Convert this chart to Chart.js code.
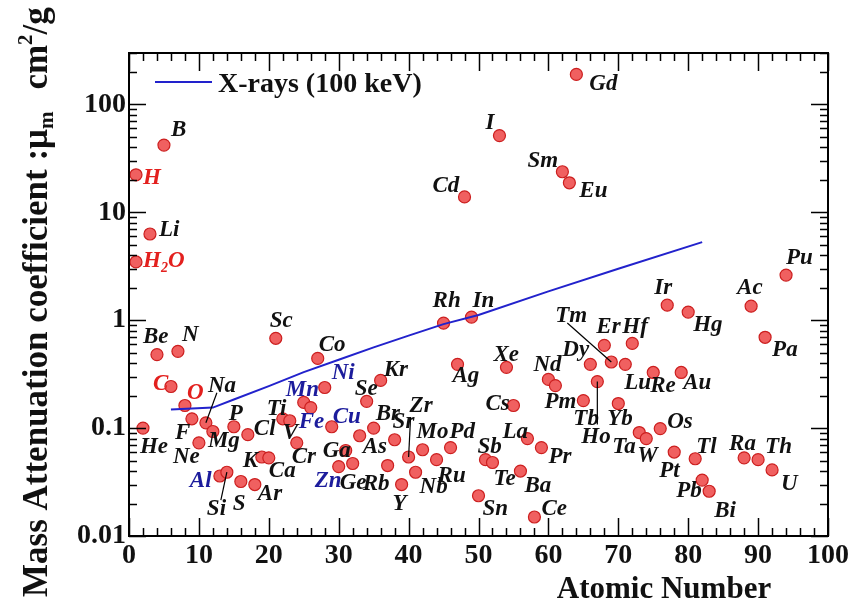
<!DOCTYPE html>
<html>
<head>
<meta charset="utf-8">
<script src="https://cdn.jsdelivr.net/npm/chart.js@4.4.1/dist/chart.umd.min.js"></script>
<style>
  html, body { margin: 0; padding: 0; background: #fff; }
</style>
</head>
<body>
<canvas id="chart" width="852" height="603"></canvas>
<script>
const SERIF = '"Liberation Serif", "Times New Roman", serif';

// neutron data
const elements = ['H','He','Li','Be','B','C','N','O','F','Ne','Na','Mg','Al','Si','P','S','Cl','Ar','K','Ca',
    'Sc','Ti','V','Cr','Mn','Fe','Co','Ni','Cu','Zn','Ga','Ge','As','Se','Br','Kr','Rb','Sr','Y','Zr',
    'Nb','Mo','Ru','Rh','Pd','Ag','Cd','In','Sn','Sb','Te','I','Xe','Cs','Ba','La','Ce','Pr','Nd','Pm',
    'Sm','Eu','Gd','Tb','Dy','Ho','Er','Tm','Yb','Lu','Hf','Ta','W','Re','Os','Ir','Pt','Au','Hg','Tl',
    'Pb','Bi','Ra','Ac','Th','Pa','U','Pu','H2O'];
const atomicNumbers = [1,2,3,4,5,6,7,8,9,10,11,12,13,14,15,16,17,18,19,20,
    21,22,23,24,25,26,27,28,29,30,31,32,33,34,35,36,37,38,39,40,
    41,42,44,45,46,47,48,49,50,51,52,53,54,55,56,57,58,59,60,61,
    62,63,64,65,66,67,68,69,70,71,72,73,74,75,76,77,78,79,80,81,
    82,83,88,89,90,91,92,94,1];
const coefficients = [22.3,0.1,6.3,0.48,42,0.243,0.515,0.162,0.122,0.073,0.112,0.093,0.036,0.039,0.103,0.032,0.087,0.030,0.054,0.053,
    0.68,0.122,0.117,0.073,0.173,0.155,0.443,0.238,0.103,0.044,0.062,0.047,0.085,0.177,0.10,0.277,0.045,0.078,0.030,0.054,
    0.039,0.063,0.051,0.94,0.066,0.39,13.9,1.07,0.0236,0.051,0.048,51.5,0.366,0.162,0.040,0.080,0.015,0.066,0.283,0.248,
    23.8,18.8,190,0.18,0.39,0.27,0.585,0.41,0.169,0.39,0.61,0.091,0.080,0.328,0.099,1.38,0.060,0.328,1.19,0.052,
    0.033,0.026,0.053,1.35,0.051,0.695,0.041,2.62,3.47];

// X-ray curve
const xrayZ = [6, 12, 15, 20, 25, 30, 35, 40, 45, 50, 60, 70, 82];
const xrayCoeff = [0.149, 0.155, 0.184, 0.245, 0.33, 0.43, 0.56, 0.72, 0.92, 1.12, 1.85, 3.0, 5.3];

const xTickValues = [0, 10, 20, 30, 40, 50, 60, 70, 80, 90, 100];
const yTickValues = [0.01, 0.1, 1, 10, 100];
const yTickLabels = ['0.01', '0.1', '1', '10', '100'];

// label placement: [dx, dy] of text left/baseline from the point centre
const labelOffsets = {
    H:[7,9], He:[-3,25], Li:[9,2], Be:[-14,-12], B:[7,-9], C:[-18,3], N:[4,-10], O:[2,-7], F:[-17,20], Ne:[-26,20],
    Na:[2,-31], Mg:[-5,15], Al:[-30,11], Si:[-20,43], P:[-5,-7], S:[-8,28], Cl:[6,0], Ar:[3,15], K:[-19,10], Ca:[0,19],
    Sc:[-6,-11], Ti:[-16,-4], V:[-7,18], Cr:[-5,20], Mn:[-18,-6], Fe:[-12,20], Co:[1,-7], Ni:[7,-8], Cu:[1,-4], Zn:[-24,20],
    Ga:[-23,6], Ge:[-13,26], As:[3,17], Se:[-12,-6], Br:[2,-8], Kr:[3,-4], Rb:[-25,24], Sr:[-2,-12], Y:[-9,25], Zr:[1,-45],
    Nb:[4,21], Mo:[-6,-12], Ru:[1,22], Rh:[-11,-16], Pd:[-1,-10], Ag:[-5,18], Cd:[-32,-5], In:[1,-10], Sn:[4,19], Sb:[-8,-7],
    Te:[1,22], I:[-14,-7], Xe:[-13,-6], Cs:[-28,4], Ba:[4,21], La:[-25,-1], Ce:[7,-2], Pr:[7,15], Nd:[-15,-8], Pm:[-11,22],
    Sm:[-35,-5], Eu:[10,14], Gd:[13,16], Tb:[-10,24], Dy:[-28,-8], Ho:[-16,61], Er:[-8,-12], Tm:[-56,-40], Yb:[-11,21], Lu:[-1,25],
    Hf:[-10,-10], Ta:[-27,20], W:[-9,23], Re:[-3,20], Os:[7,-1], Ir:[-13,-11], Pt:[-15,25], Au:[2,17], Hg:[5,19], Tl:[1,-6],
    Pb:[-26,17], Bi:[5,26], Ra:[-15,-8], Ac:[-14,-12], Th:[7,-7], Pa:[7,19], U:[9,20], Pu:[0,-11], H2O:[7,5]
};
const leaderEnds = { Na:[11,-30], Si:[-6,28], Zr:[2,-40], Tm:[-44,-39], Ho:[0,43] };
const redLabels = ['H', 'H2O', 'C', 'O'];
const blueLabels = ['Al', 'Mn', 'Fe', 'Ni', 'Cu', 'Zn'];

function drawRich(ctx, text, x, y, size) {
    // only H2O needs a subscript
    const m = text.match(/^([A-Za-z]+)(\d)([A-Za-z]*)$/);
    if (!m) { ctx.fillText(text, x, y); return; }
    ctx.fillText(m[1], x, y);
    x += ctx.measureText(m[1]).width;
    const font = ctx.font;
    ctx.font = 'italic bold ' + Math.round(size * 0.6) + 'px ' + SERIF;
    ctx.fillText(m[2], x, y + size * 0.2);
    x += ctx.measureText(m[2]).width;
    ctx.font = font;
    ctx.fillText(m[3], x, y);
}

const frameTicks = {
    id: 'frameTicks',
    afterDatasetsDraw(chart) {
        const { ctx, chartArea: a, scales: { x, y } } = chart;
        ctx.save();
        ctx.strokeStyle = '#000';
        ctx.lineWidth = 1.5;
        ctx.beginPath();
        for (let v = 0; v <= 100; v += 2) {
            const px = Math.round(x.getPixelForValue(v)) + 0.5;
            const len = v % 10 === 0 ? 18 : 8;
            ctx.moveTo(px, a.bottom); ctx.lineTo(px, a.bottom - len);
            ctx.moveTo(px, a.top); ctx.lineTo(px, a.top + len);
        }
        for (let d = 0.01; d < 1000; d *= 10) {
            for (let k = 1; k <= 9; k++) {
                const v = k * d;
                if (v > y.max * 1.0001) break;
                const py = Math.round(y.getPixelForValue(v)) + 0.5;
                const len = k === 1 ? 17 : 8;
                ctx.moveTo(a.left, py); ctx.lineTo(a.left + len, py);
                ctx.moveTo(a.right, py); ctx.lineTo(a.right - len, py);
            }
        }
        ctx.stroke();
        ctx.lineWidth = 2;
        ctx.strokeRect(a.left, a.top, a.right - a.left, a.bottom - a.top);
        ctx.restore();
    }
};

const pointLabels = {
    id: 'pointLabels',
    afterDatasetsDraw(chart) {
        const { ctx } = chart;
        const meta = chart.getDatasetMeta(1);
        const size = 23;
        ctx.save();
        ctx.textAlign = 'left';
        ctx.textBaseline = 'alphabetic';
        elements.forEach((sym, i) => {
            const pt = meta.data[i];
            if (!pt) return;
            const lead = leaderEnds[sym];
            if (lead) {
                ctx.strokeStyle = '#000';
                ctx.lineWidth = 1.2;
                ctx.beginPath();
                ctx.moveTo(pt.x, pt.y);
                ctx.lineTo(pt.x + lead[0], pt.y + lead[1]);
                ctx.stroke();
            }
            const off = labelOffsets[sym] || [6, -6];
            ctx.fillStyle = redLabels.includes(sym) ? '#e3201e' : blueLabels.includes(sym) ? '#1c1c9c' : '#111';
            ctx.font = 'italic bold ' + size + 'px ' + SERIF;
            drawRich(ctx, sym, pt.x + off[0], pt.y + off[1], size);
        });
        ctx.restore();
    }
};

const titlesAndLegend = {
    id: 'titlesAndLegend',
    afterDraw(chart) {
        const { ctx } = chart;
        const line = chart.data.datasets[0];
        ctx.save();
        // legend
        ctx.strokeStyle = line.borderColor;
        ctx.lineWidth = 2;
        ctx.beginPath();
        ctx.moveTo(155, 82); ctx.lineTo(212, 82);
        ctx.stroke();
        ctx.fillStyle = '#111';
        ctx.font = 'bold 28px ' + SERIF;
        ctx.textBaseline = 'alphabetic';
        ctx.textAlign = 'left';
        ctx.fillText(line.label, 218, 92);

        // x title
        ctx.font = 'bold 31px ' + SERIF;
        ctx.textAlign = 'center';
        ctx.fillText('Atomic Number', 664, 598);

        // y title, rotated, with mu_m and cm^2/g
        ctx.translate(47, 597);
        ctx.rotate(-Math.PI / 2);
        ctx.textAlign = 'left';
        const big = 35, small = 21;
        let cx = 0;
        const put = (txt, size, dy) => {
            ctx.font = 'bold ' + size + 'px ' + SERIF;
            ctx.fillText(txt, cx, dy);
            cx += ctx.measureText(txt).width;
        };
        put('Mass Attenuation coefficient :', big, 0);
        put('\u03bc', big, 0);
        put('m', small, 6);
        cx += 22;
        put('cm', big, 0);
        put('2', small, -15);
        put('/g', big, 0);
        ctx.restore();
    }
};

new Chart(document.getElementById('chart'), {
    type: 'scatter',
    data: {
        datasets: [{
            type: 'line',
            label: 'X-rays (100 keV)',
            data: xrayZ.map((z, i) => ({ x: z, y: xrayCoeff[i] })),
            borderColor: '#2222cc',
            borderWidth: 2,
            pointRadius: 0,
            fill: false,
            tension: 0
        }, {
            label: 'neutrons',
            data: atomicNumbers.map((z, i) => ({ x: z, y: coefficients[i] })),
            pointRadius: 6,
            pointBackgroundColor: 'rgba(240, 96, 96, 1)',
            pointBorderColor: '#cc1f1f',
            pointBorderWidth: 1.2
        }]
    },
    options: {
        responsive: false,
        devicePixelRatio: 1,
        animation: false,
        layout: { padding: { left: 0, right: 23, top: 53, bottom: 0 } },
        plugins: {
            legend: { display: false },
            tooltip: { enabled: false }
        },
        scales: {
            x: {
                type: 'linear',
                min: 0,
                max: 100,
                afterFit: s => { s.height = 67; },
                afterBuildTicks: s => { s.ticks = xTickValues.map(v => ({ value: v })); },
                ticks: {
                    font: { family: SERIF, size: 28, weight: 'bold' },
                    color: '#111',
                    padding: 3,
                    maxRotation: 0,
                    autoSkip: false
                },
                grid: { display: false, drawTicks: false },
                border: { display: false }
            },
            y: {
                type: 'logarithmic',
                min: 0.01,
                max: 300,
                afterFit: s => { s.width = 129; },
                afterBuildTicks: s => { s.ticks = yTickValues.map(v => ({ value: v })); },
                ticks: {
                    font: { family: SERIF, size: 28, weight: 'bold' },
                    color: '#111',
                    padding: 3,
                    autoSkip: false,
                    callback: (v, i) => yTickLabels[i]
                },
                grid: { display: false, drawTicks: false },
                border: { display: false }
            }
        }
    },
    plugins: [frameTicks, pointLabels, titlesAndLegend]
});
</script>
</body>
</html>
